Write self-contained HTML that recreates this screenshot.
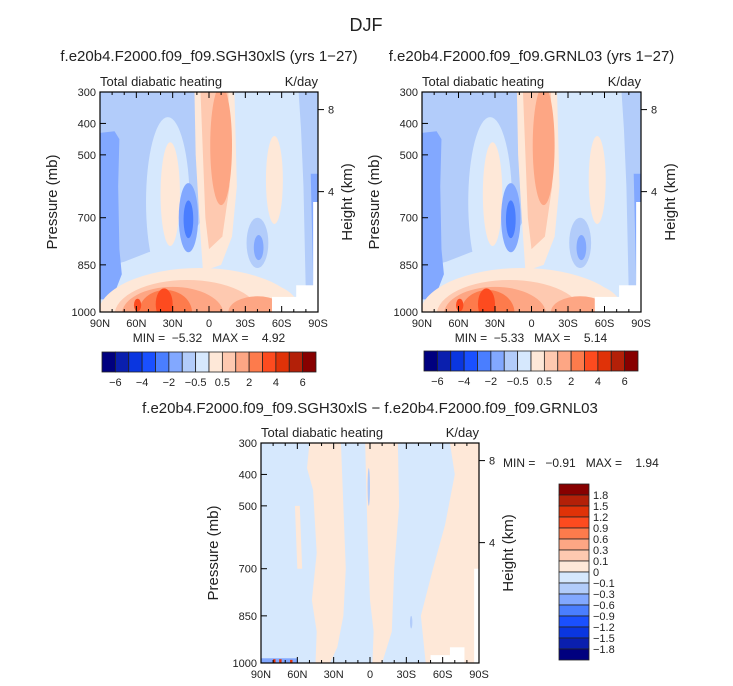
<!DOCTYPE html>
<html><head><meta charset="utf-8">
<style>
html,body{margin:0;padding:0;background:#fff;}
svg{display:block;font-family:"Liberation Sans",sans-serif;}
text{white-space:pre;}
</style></head>
<body>
<svg id="fig" width="733" height="686" viewBox="0 0 733 686" xmlns="http://www.w3.org/2000/svg">
<rect width="733" height="686" fill="#fff"/>
<text x="366" y="31" font-size="18" text-anchor="middle" fill="#222">DJF</text>
</svg>
<script>
// ---- data ----
var colors = ['#00007f','#0a1fae','#0a36e0','#1a50ff','#4a7eff','#82a8ff','#b2ccfa','#d6e8fd','#fee8d8','#fec9b0','#fda684','#fd7b4c','#fd4b1f','#e03208','#b32008','#870000'];
var cbLabelsTop = ['-6','-4','-2','-0.5','0.5','2','4','6'];
var cbLabelIdxTop = [1,3,5,7,9,11,13,15];
var cbLabelsDiff = ['1.8','1.5','1.2','0.9','0.6','0.3','0.1','0','-0.1','-0.3','-0.6','-0.9','-1.2','-1.5','-1.8'];
var latTicks = [90,60,30,0,-30,-60,-90];
var latTickLabels = ['90N','60N','30N','0','30S','60S','90S'];
var presTicks = [300,400,500,700,850,1000];
var heightTicks = [8,4];
var heightTickPres = [356,617];
// shapes: [type, level, ...] in (lat, pressure) units
var fieldCtrl = [
 ['r',7,90,-90,300,1000],
 ['p',6,[[90,300],[9,300],[9,520],[5,700],[15,760],[30,790],[50,810],[70,840],[90,860]]],
 ['p',6,[[-74,300],[-90,300],[-90,950],[-80,950],[-78,600],[-76,420]]],
 ['p',5,[[90,430],[78,425],[74,450],[75,600],[74,800],[72,880],[80,960],[90,960]]],
 ['p',5,[[-84,560],[-90,560],[-90,900],[-86,900]]],
 ['e',7,34,650,18,270],
 ['e',8,32,625,8,165],
 ['e',5,17,700,8,110],
 ['e',4,17,705,4,60],
 ['p',8,[[12,300],[-21,300],[-23,600],[-19,760],[-10,850],[5,870],[8,700],[11,500]]],
 ['p',9,[[7,300],[-16,300],[-17,600],[-11,760],[0,800],[3,700],[5,500]]],
 ['e',10,-10,470,9,190],
 ['e',8,-54,580,7,140],
 ['e',6,-40,780,9,80],
 ['e',5,-41,795,4,40],
 ['e',8,8,1010,84,150],
 ['e',8,-45,1000,30,90],
 ['e',9,18,1010,60,112],
 ['e',10,30,1008,42,88],
 ['e',10,-40,1000,24,50],
 ['e',11,36,1002,22,72],
 ['e',12,37,975,7,50],
 ['e',12,59,978,3,20],
 ['r',-1,-52,-90,952,1000],
 ['r',-1,-72,-90,915,1000],
 ['r',-1,-86,-90,650,1000]
];
var fieldTest = fieldCtrl.map(function(s){return s.slice();});
var fieldDiff = [
 ['r',7,90,-90,300,1000],
 ['p',8,[[50,300],[24,300],[22,500],[20,700],[22,850],[27,950],[33,1000],[45,1000],[44,900],[48,800],[44,650],[47,450],[52,380]]],
 ['p',8,[[62,500],[58,500],[56,700],[60,700]]],
 ['p',8,[[4,300],[-23,300],[-24,500],[-20,700],[-18,900],[-10,1000],[-2,1000],[-3,900],[0,800],[2,600]]],
 ['p',8,[[-66,300],[-90,300],[-90,1000],[-46,1000],[-42,850],[-52,700],[-62,560],[-70,400]]],
 ['e',6,1,440,1,60],
 ['e',6,-34,870,1,20],
 ['r',5,90,60,985,1000],
 ['r',13,80,78,988,1000],
 ['r',13,75,73,988,1000],
 ['r',13,66,64,990,1000],
 ['r',-1,-50,-66,975,1000],
 ['r',-1,-66,-78,950,1000],
 ['r',-1,-86,-90,700,1000]
];

var svg = document.getElementById('fig');
var NS = 'http://www.w3.org/2000/svg';
function mk(tag, attrs, parent){var e=document.createElementNS(NS,tag);for(var k in attrs)e.setAttribute(k,attrs[k]);(parent||svg).appendChild(e);return e;}
function txt(x,y,s,size,anchor,parent){var t=mk('text',{x:x,y:y,'font-size':size,'text-anchor':anchor||'middle',fill:'#222'},parent);t.textContent=s;return t;}

function panel(name, x0, y0, w, h, shapes, title, title2y){
  var g = mk('g',{});
  
  
  var xs = function(lat){return x0 + (90-lat)/180*w;};
  var ys = function(p){return y0 + (p-300)/700*h;};
  var cid = name+'-clip';
  var cp = mk('clipPath',{id:cid},g); mk('rect',{x:x0,y:y0,width:w,height:h},cp);
  var fg = mk('g',{'clip-path':'url(#'+cid+')'},g);
  
  
  shapes.forEach(function(s){
    var fill = s[1]<0 ? '#fff' : colors[s[1]];
    var el;
    if(s[0]=='r'){
      var a=xs(s[2]),b=xs(s[3]),c=ys(s[4]),d=ys(s[5]);
      el=mk('rect',{x:Math.min(a,b),y:Math.min(c,d),width:Math.abs(b-a),height:Math.abs(d-c),fill:fill},fg);
    } else if(s[0]=='e'){
      el=mk('ellipse',{cx:xs(s[2]),cy:ys(s[3]),rx:s[4]/180*w,ry:s[5]/700*h,fill:fill},fg);
    } else {
      el=mk('polygon',{points:s[2].map(function(q){return xs(q[0])+','+ys(q[1]);}).join(' '),fill:fill},fg);
    }
    
    
  });
  mk('rect',{x:x0,y:y0,width:w,height:h,fill:'none',stroke:'#000','stroke-width':1.2},g);
  for(var lat=90;lat>=-90;lat-=10){
    var major = lat%30==0, L = major?6:3;
    mk('line',{x1:xs(lat),x2:xs(lat),y1:y0+h,y2:y0+h-L,stroke:'#000'},g);
    mk('line',{x1:xs(lat),x2:xs(lat),y1:y0,y2:y0+L,stroke:'#000'},g);
  }
  latTicks.forEach(function(lat,i){
    var t=txt(xs(lat),y0+h+15,latTickLabels[i],11,'middle',g);
    
    
  });
  presTicks.forEach(function(p){
    mk('line',{x1:x0,x2:x0+6,y1:ys(p),y2:ys(p),stroke:'#000'},g);
    var t=txt(x0-4,ys(p)+4,String(p),11,'end',g);
    
    
  });
  heightTicks.forEach(function(hk,i){
    var yy=ys(heightTickPres[i]);
    mk('line',{x1:x0+w,x2:x0+w+6,y1:yy,y2:yy,stroke:'#000'},g);
    var t=txt(x0+w+10,yy+4,String(hk),11,'start',g);
    
    
  });
  var yt=txt(0,0,'Pressure (mb)',15,'middle',g);
  yt.setAttribute('transform','translate('+(x0-43)+','+(y0+h/2)+') rotate(-90)');
  
  
  var ht=txt(0,0,'Height (km)',15,'middle',g);
  ht.setAttribute('transform','translate('+(x0+w+34)+','+(y0+h/2)+') rotate(-90)');
  
  
  var st=txt(x0,y0-6,'Total diabatic heating',13,'start',g);
  
  
  var un=txt(x0+w,y0-6,'K/day',13,'end',g);
  
  
  var tt=txt(x0+w/2,title2y,title,15,'middle',g);
  
  
  return g;
}

function hbar(name,x0,y0,w,h){
  var g=mk('g',{});
  
  
  var bw=w/colors.length;
  colors.forEach(function(c,i){
    var r=mk('rect',{x:x0+i*bw,y:y0,width:bw,height:h,fill:c,stroke:'#222','stroke-width':0.8},g);
    
    
  });
  cbLabelsTop.forEach(function(s,i){
    var t=txt(x0+cbLabelIdxTop[i]*bw,y0+h+14,s.replace('-','\u2212'),11,'middle',g);
    
    
  });
}
function vbar(name,x0,y0,w,h){
  var g=mk('g',{});
  
  
  var bh=h/colors.length;
  for(var i=0;i<colors.length;i++){
    var r=mk('rect',{x:x0,y:y0+i*bh,width:w,height:bh,fill:colors[colors.length-1-i],stroke:'#222','stroke-width':0.8},g);
    
    
  }
  cbLabelsDiff.forEach(function(s,i){
    var t=txt(x0+w+4,y0+(i+1)*bh+4,s.replace('-','\u2212'),11,'start',g);
    
    
  });
}

panel('control-panel',100,92,218,220,fieldCtrl,'f.e20b4.F2000.f09_f09.SGH30xlS (yrs 1\u221227)',61);
panel('test-panel',422,92,219,220,fieldTest,'f.e20b4.F2000.f09_f09.GRNL03 (yrs 1\u221227)',61);
panel('difference-panel',261,443,218,220,fieldDiff,'f.e20b4.F2000.f09_f09.SGH30xlS \u2212 f.e20b4.F2000.f09_f09.GRNL03',413);
hbar('control-colorbar',102,352,214,20);
hbar('test-colorbar',424,351,214,20);
vbar('difference-colorbar',559,484,30,176);
var m1=txt(209,342,'MIN =  \u22125.32   MAX =    4.92',12,'middle');


var m2=txt(531,342,'MIN =  \u22125.33   MAX =    5.14',12,'middle');


var m3=txt(503,467,'MIN =   \u22120.91   MAX =    1.94',12,'start');


</script>
</body></html>
